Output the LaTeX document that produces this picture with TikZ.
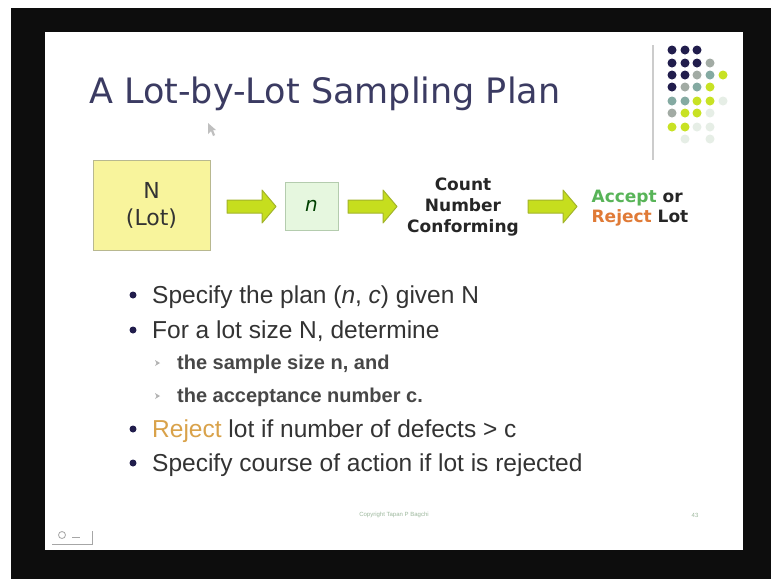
\documentclass[tikz,border=0pt]{standalone}
\usepackage{fontspec}
\setmainfont{Liberation Sans}
\newfontfamily\vfont{DejaVu Sans}
\definecolor{titlec}{HTML}{3B3B62}
\definecolor{bodyc}{HTML}{333333}
\definecolor{navy}{HTML}{211D4C}
\definecolor{lotfill}{HTML}{F8F49C}
\definecolor{lotdraw}{HTML}{B8B890}
\definecolor{nfill}{HTML}{E6F7DF}
\definecolor{ndraw}{HTML}{B4CCAE}
\definecolor{arrfill}{HTML}{C6DE1E}
\definecolor{arrdraw}{HTML}{A2B42A}
\definecolor{acceptc}{HTML}{58B458}
\definecolor{rejectc}{HTML}{E07A36}
\definecolor{rejbody}{HTML}{D9A24A}
\definecolor{dgray}{HTML}{A2ABA4}
\definecolor{dteal}{HTML}{84AAA2}
\definecolor{dyg}{HTML}{C8E224}
\definecolor{dfaint}{HTML}{E6EEE6}
\definecolor{copyc}{HTML}{9DB89D}
\tikzset{
  bodytext/.style={anchor=base west, inner sep=0pt, text=bodyc, font=\fontsize{24.5}{28}\selectfont},
  subtext/.style={anchor=base west, inner sep=0pt, text=bodyc!90!white, font=\bfseries\fontsize{20}{24}\selectfont},
  bulletdot/.style={circle, fill=navy, inner sep=0pt, minimum size=7pt},
  blockarrow/.style={fill=arrfill, draw=arrdraw, line width=1pt, line join=round},
  gdot/.style={circle, inner sep=0pt, minimum size=9pt},
}
\begin{document}
\begin{tikzpicture}[x=1pt,y=-1pt]
\useasboundingbox (0,0) rectangle (771,579);
\fill[white] (0,0) rectangle (771,579);
\fill[black!95] (11,8) rectangle (771,579);
\fill[white] (45,32) rectangle (743,550);

% title
\node[anchor=base west, inner sep=0pt, text=titlec, font=\vfont\fontsize{35}{40}\selectfont] (title) at (89,103) {A Lot-by-Lot Sampling Plan};

% decorative dots
\draw[black!20, line width=1.5pt] (653,45) -- (653,160);
\foreach \c/\x/\y in {
 navy/672/50, navy/685/50, navy/697/50,
 navy/672/63, navy/685/63, navy/697/63, dgray/710/63,
 navy/672/75, navy/685/75, dgray/697/75, dteal/710/75, dyg/723/75,
 navy/672/87, dgray/685/87, dteal/697/87, dyg/710/87,
 dteal/672/101, dteal/685/101, dyg/697/101, dyg/710/101, dfaint/723/101,
 dgray/672/113, dyg/685/113, dyg/697/113, dfaint/710/113,
 dyg/672/127, dyg/685/127, dfaint/697/127, dfaint/710/127,
 dfaint/685/139, dfaint/710/139}
  \node[gdot, fill=\c] at (\x,\y) {};

% mouse cursor
\fill[black!25] (208,123) -- (208,134) -- (211,131) -- (213,136) -- (215,135) -- (213,130) -- (216,130) -- cycle;

% flow diagram
\node[draw=lotdraw, fill=lotfill, line width=1pt, minimum width=117pt, minimum height=90pt, align=center,
      text=black!80, font=\vfont\fontsize{22}{27}\selectfont] (lot) at (151.5,205) {N\\(Lot)};
\node[draw=ndraw, fill=nfill, line width=1pt, minimum width=53pt, minimum height=48pt,
      text=black!75!green, font=\vfont\itshape\fontsize{20}{24}\selectfont] (samp) at (311.5,206) {n};
\node[align=center, text=black!85, font=\vfont\bfseries\fontsize{17}{21}\selectfont] (count) at (463,207) {Count\\Number\\Conforming};
\node[align=left, text=black!85, font=\vfont\bfseries\fontsize{17}{20}\selectfont] (decide) at (640,208)
  {\textcolor{acceptc}{Accept} or\\\textcolor{rejectc}{Reject} Lot};

\foreach \a in {227,348,528}
  \draw[blockarrow] (\a,200) -- (\a+35,200) -- (\a+35,190) -- (\a+49,206.5) -- (\a+35,223) -- (\a+35,213) -- (\a,213) -- cycle;

% bullets
\node[bodytext] (b1) at (152,303) {Specify the plan (\textit{n}, \textit{c}) given N};
\node[bodytext] (b2) at (152,338) {For a lot size N, determine};
\node[subtext] (s1) at (177,369) {the sample size n, and};
\node[subtext] (s2) at (177,402) {the acceptance number c.};
\node[bodytext] (b3) at (152,437) {\textcolor{rejbody}{Reject} lot if number of defects > c};
\node[bodytext] (b4) at (152,471) {Specify course of action if lot is rejected};
\foreach \b in {b1,b2,b3,b4}
  \node[bulletdot] at ([xshift=-19pt,yshift=8pt]\b.base west) {};
\foreach \s in {s1,s2}
  \fill[black!30] ([xshift=-22pt,yshift=9pt]\s.base west) -- ++(5,3) -- ++(-5,3) -- ++(1.5,-3) -- cycle;

% footer
\node[anchor=center, inner sep=0pt, text=copyc, font=\fontsize{6}{7}\selectfont] (copy) at (394,515) {Copyright Tapan P Bagchi};
\node[anchor=center, inner sep=0pt, text=copyc, font=\fontsize{6}{7}\selectfont] (page) at (695,515) {43};

% nav icon
\draw[black!35, line width=0.8pt] (62,535) circle (3.5);
\draw[black!35, line width=0.8pt] (52,544) -- (92,544) -- (92,531);
\draw[black!35, line width=0.8pt] (72,537) -- (80,537);
\end{tikzpicture}
\end{document}
